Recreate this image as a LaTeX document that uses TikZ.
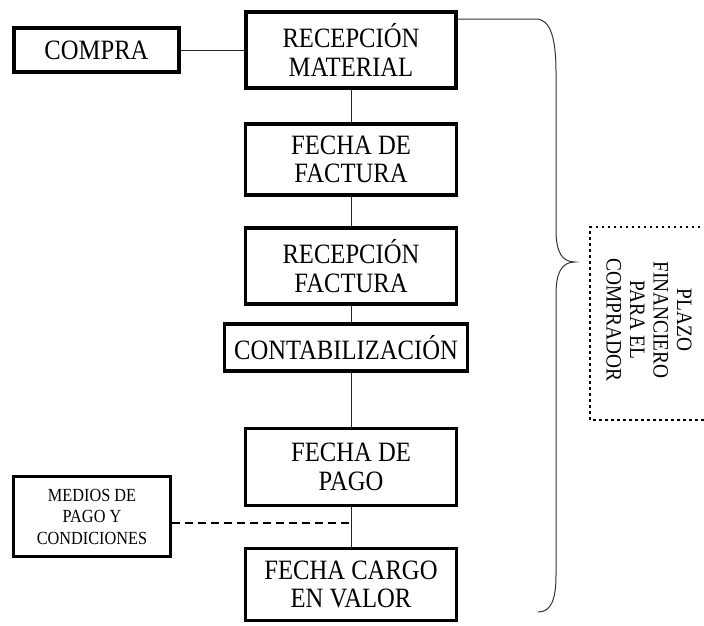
\documentclass[tikz,border=0pt]{standalone}
\usepackage{fontspec}
\setmainfont[FakeStretch=0.88]{Liberation Serif}
\begin{document}
\begin{tikzpicture}[x=1pt,y=-1pt,
  box/.style={draw, line width=3.5pt, inner sep=0pt, align=center,
    font=\fontsize{28}{28.5}\selectfont},
  smallbox/.style={box, font=\fontsize{18.5}{21.5}\selectfont},
  link/.style={line width=1pt, black!85},
  dashlink/.style={line width=1.8pt, dash pattern=on 8pt off 5pt},
  brace/.style={line width=1pt, black!80},
  dotframe/.style={line width=2.5pt, dash pattern=on 2.5pt off 3.5pt}]
\useasboundingbox (0,0) rectangle (704,625);

% boxes of the main column
\node[box, minimum width=165pt, minimum height=44pt] (compra) at (96.5,50) {COMPRA};
\node[box, minimum width=210pt, minimum height=76pt] (rm) at (351,50) {RECEPCIÓN\\MATERIAL};
\node[box, minimum width=211pt, minimum height=71pt] (ff) at (351,159.5) {FECHA DE\\FACTURA};
\node[box, minimum width=211pt, minimum height=76pt] (rf) at (351,266) {RECEPCIÓN\\FACTURA};
\node[box, minimum width=243pt, minimum height=47pt] (cont) at (346,347.5) {CONTABILIZACIÓN};
\node[box, minimum width=211pt, minimum height=77pt] (fp) at (351,467) {FECHA DE\\PAGO};
\node[box, minimum width=211pt, minimum height=72pt] (fc) at (351,584.5) {FECHA CARGO\\EN VALOR};
\node[smallbox, minimum width=157pt, minimum height=80pt] (medios) at (92,516.5) {MEDIOS DE\\PAGO Y\\CONDICIONES};

% connectors
\draw[link] (compra) -- (rm);
\draw[link] (rm.south) -- (rm.south |- ff.north);
\draw[link] (ff.south) -- (ff.south |- rf.north);
\draw[link] (rf.south) -- (rf.south |- cont.north);
\draw[link] (cont.south -| fp.north) -- (fp.north);
\draw[link] (fp.south) -- (fp.south |- fc.north);
\coordinate (j) at (fp.south |- 0,523);
\draw[dashlink] (medios.east |- j) -- (j);

% curly brace over the whole sequence
\coordinate (b0) at (0,19);
\draw[brace] (rm.east |- b0) -- (536,19)
  .. controls (551,19) and (556,40) .. (556,72)
  -- (556,230)
  .. controls (556,252) and (562,262) .. (575,262)
  .. controls (562,262) and (556,272) .. (556,294)
  -- (556,575)
  .. controls (556,600) and (551,612) .. (538,612);

% label of the brace in a dotted frame
\node[rotate=-90, align=center, inner sep=0pt,
  font=\fontsize{22}{23.5}\selectfont] (plazo) at (649,320)
  {PLAZO\\FINANCIERO\\PARA EL\\COMPRADOR};
\draw[dotframe] (712,227) -- (590,227) -- (590,420) -- (712,420);
\end{tikzpicture}
\end{document}
